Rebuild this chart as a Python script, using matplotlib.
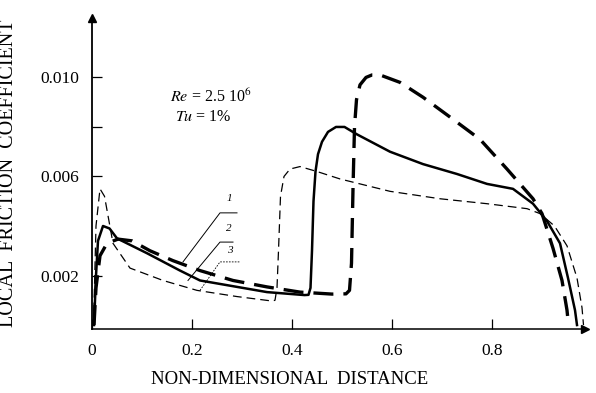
import matplotlib
matplotlib.use("Agg")
import matplotlib.pyplot as plt

# ------------------ DATA ------------------
# curve 1: heavy long dashes
x1 = [0.004, 0.008, 0.016, 0.03, 0.052, 0.08, 0.116, 0.162, 0.216, 0.282, 0.35,
      0.416, 0.48, 0.508, 0.515, 0.519, 0.522, 0.525, 0.529, 0.536, 0.548, 0.56, 0.576,
      0.616, 0.662, 0.716, 0.776, 0.83, 0.882, 0.9, 0.922, 0.94, 0.95, 0.953]
y1 = [0.0, 0.0015, 0.0028, 0.0033, 0.00347, 0.0034, 0.0030, 0.0026, 0.0022, 0.0018, 0.00154,
      0.00133, 0.00125, 0.00126, 0.0014, 0.0025, 0.0055, 0.0080, 0.0091, 0.0097, 0.0100, 0.0101, 0.0101,
      0.0098, 0.0092, 0.0084, 0.0075, 0.0063, 0.0051, 0.0045, 0.0031, 0.0018, 0.0006, 0.0]

# curve 2: solid
x2 = [0.004, 0.008, 0.012, 0.022, 0.035, 0.05, 0.11, 0.176, 0.216, 0.35, 0.425,
      0.433, 0.437, 0.44, 0.443, 0.447, 0.452, 0.46, 0.472, 0.488, 0.505, 0.53, 0.596, 0.662,
      0.73, 0.79, 0.842, 0.882, 0.91, 0.936, 0.952, 0.966, 0.97]
y2 = [0.0, 0.0020, 0.0034, 0.0040, 0.0039, 0.0035, 0.0029, 0.0022, 0.0018, 0.00133, 0.00121,
      0.00122, 0.0015, 0.0030, 0.0050, 0.0062, 0.0069, 0.0074, 0.0078, 0.0080, 0.0080, 0.0077,
      0.0070, 0.0065, 0.0061, 0.0057, 0.0055, 0.0049, 0.0042, 0.0033, 0.0019, 0.0006, 0.0]

# curve 3: thin dashes
x3 = [0.003, 0.008, 0.016, 0.025, 0.042, 0.076, 0.142, 0.21, 0.29, 0.36, 0.366,
      0.37, 0.373, 0.377, 0.384, 0.396, 0.416, 0.45, 0.496, 0.596, 0.696, 0.79, 0.87,
      0.896, 0.925, 0.95, 0.97, 0.98, 0.983]
y3 = [0.0, 0.0040, 0.0055, 0.0052, 0.0033, 0.0023, 0.0018, 0.0014, 0.00115, 0.00097, 0.001,
      0.0015, 0.0030, 0.0052, 0.0060, 0.0063, 0.0064, 0.0062, 0.0059, 0.0054, 0.0051, 0.0049, 0.0047,
      0.0045, 0.0040, 0.0032, 0.0019, 0.0007, 0.0]

x_ticks = [0, 0.2, 0.4, 0.6, 0.8]
x_tick_labels = ["0", "0.2", "0.4", "0.6", "0.8"]
y_ticks = [0.002, 0.006, 0.008, 0.010]
y_tick_labels = ["0.002", "0.006", "", "0.010"]

curve_labels = ["1", "2", "3"]
# leader lines: (start on curve, elbow, end), label position
leaders = [
    [(0.182, 0.00255), (0.256, 0.00453), (0.29, 0.00453)],
    [(0.192, 0.0018), (0.256, 0.00335), (0.282, 0.00335)],
    [(0.216, 0.0014), (0.256, 0.00255), (0.296, 0.00255)],
]
label_pos = [(0.274, 0.0051), (0.274, 0.0039), (0.276, 0.0030)]

# ------------------ FIGURE ------------------
plt.rcParams["font.family"] = ["Liberation Serif", "DejaVu Serif"]

fig = plt.figure(figsize=(5.96, 3.93), dpi=100)
ax = fig.add_axes([92 / 596, 64 / 393, 493 / 596, 311 / 393])

ax.plot(x1, y1, color="black", lw=2.4, dashes=(6, 3), solid_capstyle="butt")
ax.plot(x2, y2, color="black", lw=1.8)
ax.plot(x3, y3, color="black", lw=0.9, dashes=(7, 4))

# leader lines to curve numbers
for i, pts in enumerate(leaders):
    xs = [p[0] for p in pts]
    ys = [p[1] for p in pts]
    if i == 2:
        ax.plot(xs, ys, color="black", lw=0.6, ls=(0, (2, 1.5)))
    else:
        ax.plot(xs, ys, color="black", lw=0.7)
    ax.text(label_pos[i][0], label_pos[i][1], curve_labels[i], fontsize=8,
            style="italic", ha="center", va="center")

ax.text(0.156, 0.0092, r"$Re$ = 2.5 10$^6$", fontsize=11.5, va="center",
        math_fontfamily="stix")
ax.text(0.166, 0.0084, r"$Tu$ = 1%", fontsize=11.5, va="center",
        math_fontfamily="stix")

ax.set_xlim(0, 0.986)
ax.set_ylim(-0.00016, 0.0124)

ax.spines["top"].set_visible(False)
ax.spines["right"].set_visible(False)
ax.spines["left"].set_linewidth(1.3)
ax.spines["bottom"].set_linewidth(1.1)

# axis arrows
ax.plot(1, 0, ">", color="black", ms=6, transform=ax.transAxes, clip_on=False)
ax.plot(0, 1, "^", color="black", ms=6, transform=ax.transAxes, clip_on=False)

ax.set_xticks(x_ticks)
ax.set_xticklabels(x_tick_labels)
ax.set_yticks(y_ticks)
ax.set_yticklabels(y_tick_labels)
ax.tick_params(axis="both", direction="in", length=7, width=0.9, labelsize=12.5)
ax.tick_params(axis="x", pad=10)
ax.tick_params(axis="y", pad=9)

ax.set_xlabel("NON-DIMENSIONAL  DISTANCE", fontsize=13.5)
ax.xaxis.set_label_coords(0.40, -0.135)
ax.set_ylabel("LOCAL  FRICTION  COEFFICIENT", fontsize=14.5)
ax.yaxis.set_label_coords(-0.15, 0.50)

fig.savefig("out.png", dpi=100)
